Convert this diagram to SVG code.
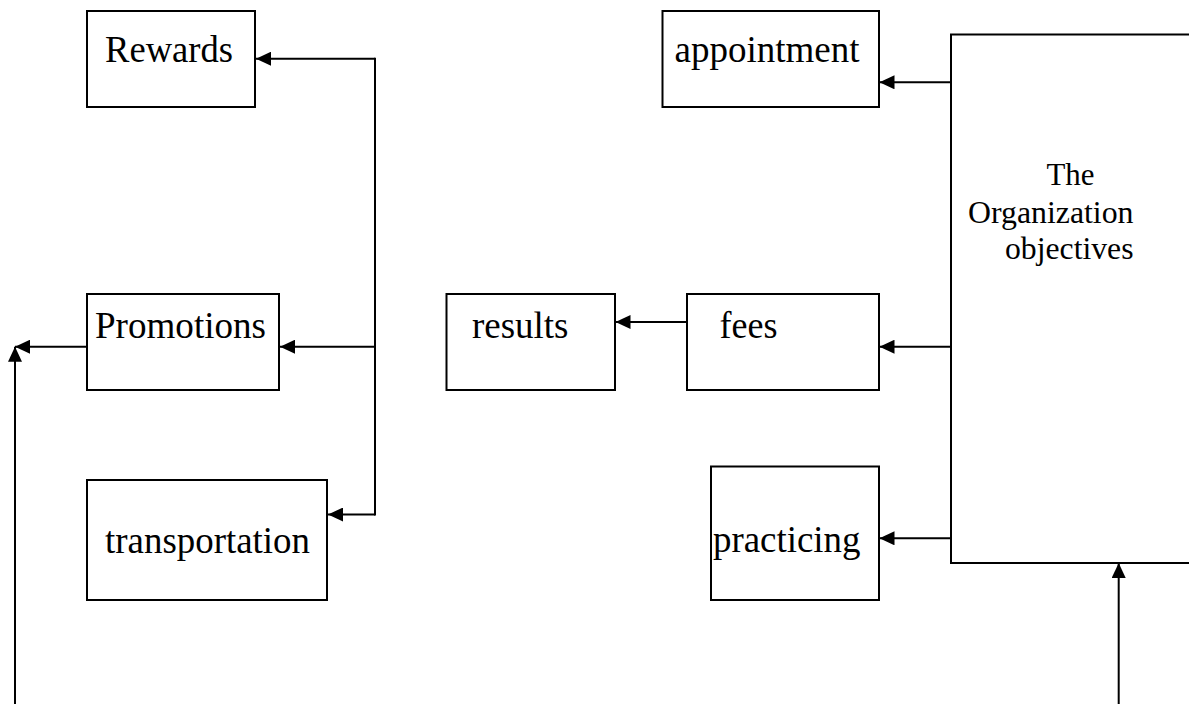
<svg xmlns="http://www.w3.org/2000/svg" width="1189" height="704" viewBox="0 0 1189 704">
  <style>
    .box { fill: #ffffff; stroke: #000000; stroke-width: 2; }
    .lbl { font-family: "Liberation Serif", "Times New Roman", serif; font-size: 37px; fill: #000000; }
    .lbl-sm { font-family: "Liberation Serif", "Times New Roman", serif; font-size: 31px; fill: #000000; }
    .wire { fill: none; stroke: #000000; stroke-width: 2; }
    .trunk { stroke-linecap: square; }
  </style>
  <defs>
    <marker id="arrow" markerUnits="userSpaceOnUse" markerWidth="16" markerHeight="14" refX="15" refY="7" orient="auto">
      <path d="M0,0 L15,7 L0,14 z" fill="#000000"/>
    </marker>
  </defs>

  <rect width="1189" height="704" fill="#ffffff"/>

  <!-- boxes -->
  <g id="rewards">
    <rect class="box" x="87" y="11" width="168" height="96"/>
    <text class="lbl" x="105" y="62" textLength="128" lengthAdjust="spacingAndGlyphs">Rewards</text>
  </g>
  <g id="promotions">
    <rect class="box" x="87" y="294" width="192" height="96"/>
    <text class="lbl" x="95" y="338" textLength="171" lengthAdjust="spacingAndGlyphs">Promotions</text>
  </g>
  <g id="transportation">
    <rect class="box" x="87" y="480" width="240" height="120"/>
    <text class="lbl" x="105" y="553" textLength="205" lengthAdjust="spacingAndGlyphs">transportation</text>
  </g>
  <g id="appointment">
    <rect class="box" x="662.5" y="11" width="216.5" height="96"/>
    <text class="lbl" x="674.5" y="62" textLength="185" lengthAdjust="spacingAndGlyphs">appointment</text>
  </g>
  <g id="results">
    <rect class="box" x="446.5" y="294" width="168.5" height="96"/>
    <text class="lbl" x="472" y="338" textLength="96.5" lengthAdjust="spacingAndGlyphs">results</text>
  </g>
  <g id="fees">
    <rect class="box" x="687" y="294" width="192" height="96"/>
    <text class="lbl" x="719.5" y="338" textLength="58" lengthAdjust="spacingAndGlyphs">fees</text>
  </g>
  <g id="practicing">
    <rect class="box" x="711" y="466.5" width="168" height="133.5"/>
    <text class="lbl" x="713" y="552" textLength="147.5" lengthAdjust="spacingAndGlyphs">practicing</text>
  </g>
  <g id="objectives">
    <rect class="box" x="951" y="34.5" width="260" height="528.5"/>
    <text class="lbl-sm" x="1046.5" y="185" textLength="48" lengthAdjust="spacingAndGlyphs">The</text>
    <text class="lbl-sm" x="968" y="222.5" textLength="165.5" lengthAdjust="spacingAndGlyphs">Organization</text>
    <text class="lbl-sm" x="1005" y="259" textLength="128.5" lengthAdjust="spacingAndGlyphs">objectives</text>
  </g>

  <!-- connectors -->
  <g id="connectors">
    <!-- trunk feeding the three left-hand boxes -->
    <line class="wire trunk" x1="375" y1="58.7" x2="375" y2="514.5"/>
    <line class="wire" x1="375" y1="58.7" x2="256" y2="58.7" marker-end="url(#arrow)"/>
    <line class="wire" x1="375" y1="346.7" x2="280" y2="346.7" marker-end="url(#arrow)"/>
    <line class="wire" x1="375" y1="514.5" x2="328" y2="514.5" marker-end="url(#arrow)"/>
    <!-- promotions outward -->
    <line class="wire" x1="87" y1="346.7" x2="15" y2="346.7" marker-end="url(#arrow)"/>
    <line class="wire" x1="15" y1="704" x2="15" y2="346.7" marker-end="url(#arrow)"/>
    <!-- objectives box to its outputs -->
    <line class="wire" x1="951" y1="82.3" x2="879.5" y2="82.3" marker-end="url(#arrow)"/>
    <line class="wire" x1="951" y1="346.7" x2="879.5" y2="346.7" marker-end="url(#arrow)"/>
    <line class="wire" x1="951" y1="538.3" x2="879.5" y2="538.3" marker-end="url(#arrow)"/>
    <line class="wire" x1="687" y1="322" x2="615.5" y2="322" marker-end="url(#arrow)"/>
    <!-- input from below -->
    <line class="wire" x1="1118.7" y1="704" x2="1118.7" y2="563" marker-end="url(#arrow)"/>
  </g>
</svg>
